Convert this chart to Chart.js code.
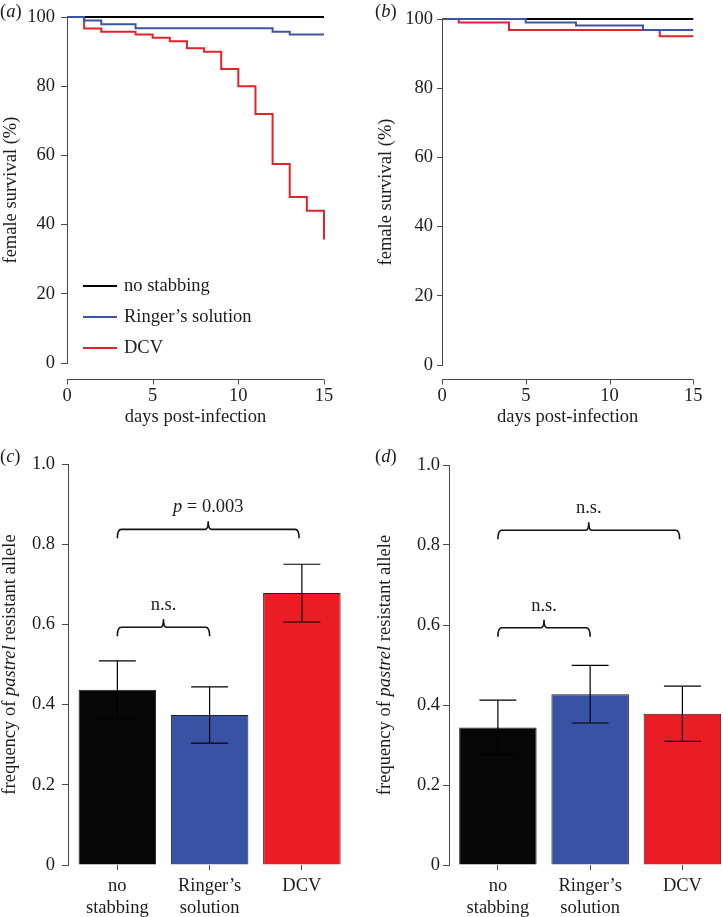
<!DOCTYPE html>
<html>
<head>
<meta charset="utf-8">
<script src="https://cdn.jsdelivr.net/npm/chart.js@4.4.0/dist/chart.umd.min.js"></script>
<style>
  body { margin:0; background:#fff; width:723px; height:917px; position:relative; overflow:hidden; }
  .box { position:absolute; }
</style>
</head>
<body>
<div class="box" style="left:0;top:0;width:361px;height:440px"><canvas id="chartA"></canvas></div>
<div class="box" style="left:361px;top:0;width:362px;height:440px"><canvas id="chartB"></canvas></div>
<div class="box" style="left:0;top:440px;width:361px;height:477px"><canvas id="chartC"></canvas></div>
<div class="box" style="left:361px;top:440px;width:362px;height:477px"><canvas id="chartD"></canvas></div>
<script>
// --- data ---
const seriesNames = ['no stabbing', 'Ringer\u2019s solution', 'DCV']
const seriesColors = ['#000000', '#3a55a6', '#e3222a']

// (a) survival, days and % alive
const aNoStabDays = [0, 15]
const aNoStabSurv = [100, 100]
const aRingerDays = [0, 1, 2, 4, 12, 13, 15]
const aRingerSurv = [100, 99, 97.9, 96.8, 95.8, 95, 95]
const aDcvDays = [0, 1, 2, 4, 5, 6, 7, 8, 9, 10, 11, 12, 13, 14, 15]
const aDcvSurv = [100, 96.7, 95.8, 95, 94, 93, 91, 90, 85, 80, 72, 57.5, 48, 44, 35.7]

// (b)
const bNoStabDays = [0, 15]
const bNoStabSurv = [100, 100]
const bRingerDays = [0, 5, 8, 12, 15]
const bRingerSurv = [100, 99, 98.1, 96.8, 96.8]
const bDcvDays = [0, 1, 4, 13, 15]
const bDcvSurv = [100, 99, 96.8, 95, 95]

const survTicksX = [0, 5, 10, 15]

// (c),(d) allele frequency with standard errors
const barTickLabels = [['no', 'stabbing'], ['Ringer\u2019s', 'solution'], ['DCV']]
const barColors = ['#060606', '#3953a4', '#ec1c24']
const cFreq = [0.437, 0.374, 0.678]
const cErr = [0.072, 0.070, 0.072]
const dFreq = [0.344, 0.427, 0.378]
const dErr = [0.068, 0.072, 0.069]

// brackets: [from group, to group, height, label]
const cBrackets = [[0, 1, 0.593, 'n.s.'], [0, 1.97, 0.837, 'p = 0.003']]
const dBrackets = [[0, 1, 0.593, 'n.s.'], [0, 1.97, 0.837, 'n.s.']]

const SERIF = '"Liberation Serif", "DejaVu Serif", serif'
const FS = 18.5
const AXIS = '#4a4a4a'
const INK = '#1c1c1c'
Chart.defaults.font.family = SERIF
Chart.defaults.font.size = FS
Chart.defaults.color = INK

function fnt(italic){ return (italic ? 'italic ' : '') + FS + 'px ' + SERIF }

// draw text made of normal / italic pieces
function mixedText(ctx, parts, x, y, align){
  const w = parts.map(p => { ctx.font = fnt(p[1]); return ctx.measureText(p[0]).width })
  const total = w.reduce((a, b) => a + b, 0)
  let cx = align === 'center' ? x - total / 2 : x
  ctx.textAlign = 'left'
  parts.forEach((p, i) => { ctx.font = fnt(p[1]); ctx.fillText(p[0], cx, y); cx += w[i] })
}

function splitItalic(label){
  // "p = 0.003" -> italic p
  if (label.startsWith('p ')) return [['p', true], [label.slice(1), false]]
  return [[label, false]]
}

const extras = {
  id: 'extras',
  afterDatasetsDraw(chart, args, o){
    const ctx = chart.ctx, xs = chart.scales.x, ys = chart.scales.y, area = chart.chartArea
    ctx.save()
    ctx.textBaseline = 'middle'
    ctx.fillStyle = INK

    // error bars
    if (o.values){
      ctx.strokeStyle = '#000'
      ctx.lineWidth = 1.2
      o.values.forEach((v, i) => {
        const x = xs.getPixelForValue(i)
        const xl = xs.getPixelForValue(i - 0.2), xr = xs.getPixelForValue(i + 0.2)
        const yt = ys.getPixelForValue(v + o.errors[i]), yb = ys.getPixelForValue(v - o.errors[i])
        ctx.beginPath()
        ctx.moveTo(x, yt); ctx.lineTo(x, yb)
        ctx.moveTo(xl, yt); ctx.lineTo(xr, yt)
        ctx.moveTo(xl, yb); ctx.lineTo(xr, yb)
        ctx.stroke()
      })
    }

    // significance brackets
    if (o.brackets){
      ctx.strokeStyle = '#111'
      ctx.lineWidth = 1.6
      o.brackets.forEach(b => {
        const x1 = xs.getPixelForValue(b[0]), x2 = xs.getPixelForValue(b[1])
        const y = ys.getPixelForValue(b[2]), xm = (x1 + x2) / 2
        ctx.beginPath()
        ctx.moveTo(x1, y + 9)
        ctx.quadraticCurveTo(x1, y, x1 + 4, y)
        ctx.lineTo(xm - 3, y)
        ctx.quadraticCurveTo(xm, y, xm, y - 8)
        ctx.quadraticCurveTo(xm, y, xm + 3, y)
        ctx.lineTo(x2 - 4, y)
        ctx.quadraticCurveTo(x2, y, x2, y + 9)
        ctx.stroke()
        mixedText(ctx, splitItalic(b[3]), xm, y - 22, 'center')
      })
    }

    // offset x axis (R style)
    if (o.xAxisGap){
      const y = Math.round(area.bottom + o.xAxisGap) + 0.5
      ctx.strokeStyle = AXIS
      ctx.lineWidth = 1
      ctx.beginPath()
      ctx.moveTo(xs.getPixelForValue(xs.min), y)
      ctx.lineTo(xs.getPixelForValue(xs.max), y)
      xs.ticks.forEach(t => {
        const x = Math.round(xs.getPixelForValue(t.value)) + 0.5
        ctx.moveTo(x, y); ctx.lineTo(x, y + 5)
      })
      ctx.stroke()
    }

    // legend inside plot
    if (o.legend){
      chart.data.datasets.forEach((ds, i) => {
        const n = chart.data.datasets.length
        const y = area.bottom - 15 - 31 * (n - 1 - i)
        ctx.strokeStyle = ds.borderColor
        ctx.lineWidth = 2
        ctx.beginPath()
        ctx.moveTo(area.left + 16, y); ctx.lineTo(area.left + 50, y)
        ctx.stroke()
        mixedText(ctx, [[ds.label, false]], area.left + 57, y, 'left')
      })
    }

    // rotated y title with italic gene name
    if (o.yTitle){
      ctx.save()
      ctx.translate(o.yTitleX, (area.top + area.bottom) / 2)
      ctx.rotate(-Math.PI / 2)
      mixedText(ctx, o.yTitle, 0, 0, 'center')
      ctx.restore()
    }

    // panel letter
    if (o.panel){
      mixedText(ctx, [['(', false], [o.panel, true], [')', false]], o.panelX, o.panelY, 'left')
    }
    ctx.restore()
  }
}

function pts(xs, ys){ return xs.map((x, i) => ({ x: x, y: ys[i] })) }

function survivalChart(id, days, surv, lay){
  const drawOrder = [1, 0, 2] // blue on top, red underneath
  return new Chart(document.getElementById(id), {
    type: 'line',
    data: {
      datasets: seriesNames.map((name, i) => ({
        label: name,
        data: pts(days[i], surv[i]),
        borderColor: seriesColors[i],
        borderWidth: 2,
        pointRadius: 0,
        stepped: 'before',
        fill: false,
        clip: false,
        order: drawOrder[i]
      }))
    },
    options: {
      animation: false,
      responsive: true,
      maintainAspectRatio: false,
      layout: { padding: { left: lay.padLeft, right: lay.padRight, top: lay.padTop, bottom: 0 } },
      plugins: {
        legend: { display: false },
        tooltip: { enabled: false },
        extras: lay.extras
      },
      scales: {
        x: {
          type: 'linear', min: 0, max: 15,
          afterBuildTicks: s => { s.ticks = survTicksX.map(v => ({ value: v })) },
          afterFit: s => { s.height = lay.xHeight },
          grid: { display: false, drawTicks: false },
          border: { display: false },
          ticks: { padding: lay.xPad, maxRotation: 0, color: INK },
          title: { display: true, text: 'days post-infection', padding: { top: 0, bottom: 12 }, color: INK }
        },
        y: {
          min: 0, max: 100,
          afterFit: s => { s.width = lay.yWidth },
          grid: { drawOnChartArea: false, drawTicks: true, tickLength: lay.yTick, color: AXIS },
          border: { display: true, color: AXIS, width: 1 },
          ticks: { stepSize: 20, padding: lay.yPad, color: INK },
          title: { display: true, text: 'female survival (%)', padding: { top: 0, bottom: 0 }, color: INK }
        }
      }
    },
    plugins: [extras]
  })
}

function barChart(id, freq, err, brackets, lay){
  return new Chart(document.getElementById(id), {
    type: 'bar',
    data: {
      datasets: [{
        data: freq.map((v, i) => ({ x: i, y: v })),
        backgroundColor: barColors,
        borderColor: '#202020',
        borderWidth: 1,
        barPercentage: 0.84,
        categoryPercentage: 1
      }]
    },
    options: {
      animation: false,
      responsive: true,
      maintainAspectRatio: false,
      layout: { padding: { left: 0, right: lay.padRight, top: lay.padTop, bottom: 0 } },
      plugins: {
        legend: { display: false },
        tooltip: { enabled: false },
        extras: Object.assign({ values: freq, errors: err, brackets: brackets,
          yTitle: [['frequency of ', false], ['pastrel', true], [' resistant allele', false]] }, lay.extras)
      },
      scales: {
        x: {
          type: 'linear', min: lay.xMin, max: lay.xMax, offset: false,
          afterBuildTicks: s => { s.ticks = barTickLabels.map((l, i) => ({ value: i })) },
          afterFit: s => { s.height = lay.xHeight },
          grid: { offset: false, drawOnChartArea: false, drawTicks: true, tickLength: 5, color: AXIS },
          border: { display: false },
          ticks: {
            padding: 6, maxRotation: 0, autoSkip: false, color: INK,
            font: { size: FS, lineHeight: 1.15 },
            callback: v => barTickLabels[v]
          }
        },
        y: {
          min: 0, max: 1,
          afterFit: s => { s.width = lay.yWidth },
          grid: { drawOnChartArea: false, drawTicks: true, tickLength: 6, color: AXIS },
          border: { display: true, color: AXIS, width: 1 },
          ticks: { stepSize: 0.2, padding: lay.yPad, color: INK, callback: v => v === 0 ? '0' : v.toFixed(1) }
        }
      }
    },
    plugins: [extras]
  })
}

survivalChart('chartA',
  [aNoStabDays, aRingerDays, aDcvDays], [aNoStabSurv, aRingerSurv, aDcvSurv],
  { padLeft: 0, padRight: 37, padTop: 17, xHeight: 77, xPad: 22.5, yWidth: 67, yTick: 6, yPad: 6,
    extras: { xAxisGap: 16, legend: true, panel: 'a', panelX: 0, panelY: 12 } })

survivalChart('chartB',
  [bNoStabDays, bRingerDays, bDcvDays], [bNoStabSurv, bRingerSurv, bDcvSurv],
  { padLeft: 14, padRight: 22, padTop: 19, xHeight: 75, xPad: 20.5, yWidth: 67, yTick: 5, yPad: 4,
    extras: { xAxisGap: 14, legend: false, panel: 'b', panelX: 14, panelY: 12 } })

barChart('chartC', cFreq, cErr, cBrackets,
  { padRight: 13, padTop: 24, xHeight: 52, yWidth: 68, yPad: 7, xMin: -0.535, xMax: 2.5,
    extras: { yTitleX: 10, panel: 'c', panelX: 0, panelY: 17 } })

barChart('chartD', dFreq, dErr, dBrackets,
  { padRight: 0, padTop: 25, xHeight: 52, yWidth: 88, yPad: 3, xMin: -0.53, xMax: 2.44,
    extras: { yTitleX: 24, panel: 'd', panelX: 14, panelY: 17 } })
</script>
</body>
</html>
